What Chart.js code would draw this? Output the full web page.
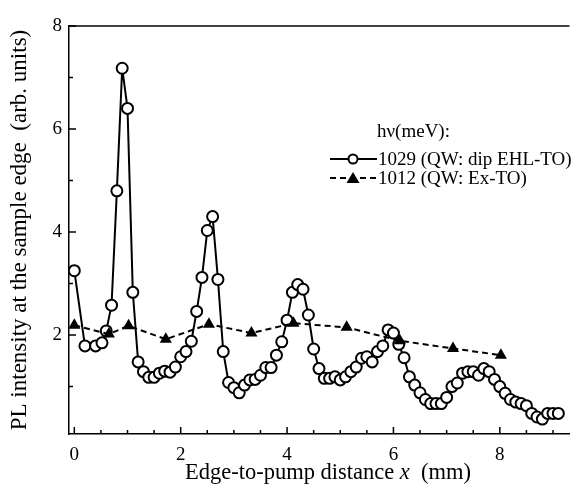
<!DOCTYPE html>
<html>
<head>
<meta charset="utf-8">
<script src="https://cdn.jsdelivr.net/npm/chart.js@4.4.1/dist/chart.umd.min.js"></script>
<style>
html,body{margin:0;padding:0;background:#fff;}
canvas{display:block;}
</style>
</head>
<body>
<canvas id="c" width="577" height="489"></canvas>
<script>
// Series 1: 1029 meV (QW: dip EHL-TO) — open circles, solid line
const xEHL = [0.0, 0.2, 0.4, 0.52, 0.6, 0.7, 0.8, 0.9, 1.0, 1.1, 1.2, 1.3, 1.4, 1.5, 1.6, 1.7, 1.8, 1.9, 2.0, 2.1, 2.2, 2.3, 2.4, 2.5, 2.6, 2.7, 2.8, 2.9, 3.0, 3.1, 3.2, 3.3, 3.4, 3.5, 3.6, 3.7, 3.8, 3.9, 4.0, 4.1, 4.2, 4.3, 4.4, 4.5, 4.6, 4.7, 4.8, 4.9, 5.0, 5.1, 5.2, 5.3, 5.4, 5.5, 5.6, 5.7, 5.8, 5.9, 6.0, 6.1, 6.2, 6.3, 6.4, 6.5, 6.6, 6.7, 6.8, 6.9, 7.0, 7.1, 7.2, 7.3, 7.4, 7.5, 7.6, 7.7, 7.8, 7.9, 8.0, 8.1, 8.2, 8.3, 8.4, 8.5, 8.6, 8.7, 8.8, 8.9, 9.0, 9.1];
const yEHL = [3.25, 1.79, 1.79, 1.85, 2.08, 2.58, 4.80, 7.18, 6.40, 2.83, 1.48, 1.29, 1.18, 1.18, 1.26, 1.30, 1.28, 1.38, 1.58, 1.68, 1.88, 2.46, 3.12, 4.03, 4.30, 3.08, 1.68, 1.08, 0.98, 0.88, 1.03, 1.13, 1.14, 1.22, 1.37, 1.37, 1.61, 1.87, 2.29, 2.83, 2.98, 2.89, 2.39, 1.73, 1.35, 1.16, 1.16, 1.19, 1.13, 1.19, 1.29, 1.38, 1.55, 1.58, 1.48, 1.68, 1.79, 2.10, 2.04, 1.82, 1.56, 1.19, 1.03, 0.88, 0.75, 0.67, 0.67, 0.67, 0.79, 1.00, 1.07, 1.26, 1.29, 1.29, 1.22, 1.35, 1.29, 1.14, 1.00, 0.87, 0.75, 0.70, 0.67, 0.63, 0.48, 0.41, 0.37, 0.48, 0.48, 0.48];

// Series 2: 1012 meV (QW: Ex-TO) — filled triangles, dashed line
const xEx = [0.0, 0.65, 1.02, 1.72, 2.53, 3.33, 4.12, 5.12, 6.12, 7.12, 8.02];
const yEx = [2.19, 2.02, 2.18, 1.92, 2.21, 2.04, 2.23, 2.15, 1.89, 1.74, 1.61];

// Axis ticks
const xMajorTicks = [0, 2, 4, 6, 8];
const xMinorTicks = [0.5, 1, 1.5, 2.5, 3, 3.5, 4.5, 5, 5.5, 6.5, 7, 7.5, 8.5, 9];
const yMajorTicks = [2, 4, 6, 8];
const yMinorTicks = [1, 3, 5, 7];

const legendTitle = 'h\u03bd(meV):';
const seriesLabels = ['1029 (QW: dip EHL-TO)', '1012 (QW: Ex-TO)'];
const xTitleParts = ['Edge-to-pump distance ', 'x', '  (mm)'];
const yTitle = 'PL intensity at the sample edge  (arb. units)';

const SERIF = '"Liberation Serif", "Times New Roman", serif';

const d1 = xEHL.map((x, i) => ({x: x, y: yEHL[i]}));
const d2 = xEx.map((x, i) => ({x: x, y: yEx[i]}));

const framePlugin = {
  id: 'frame',
  afterDraw(chart) {
    const ctx = chart.ctx;
    const a = chart.chartArea;
    const xs = chart.scales.x, ys = chart.scales.y;
    ctx.save();
    ctx.strokeStyle = '#000';
    ctx.lineWidth = 1.5;
    // top border
    ctx.beginPath();
    ctx.moveTo(a.left, a.top);
    ctx.lineTo(a.right, a.top);
    ctx.stroke();
    // inward ticks
    ctx.beginPath();
    xMajorTicks.forEach(v => { const p = xs.getPixelForValue(v); ctx.moveTo(p, a.bottom); ctx.lineTo(p, a.bottom - 7); });
    xMinorTicks.forEach(v => { const p = xs.getPixelForValue(v); ctx.moveTo(p, a.bottom); ctx.lineTo(p, a.bottom - 4); });
    yMajorTicks.forEach(v => { const p = ys.getPixelForValue(v); ctx.moveTo(a.left, p); ctx.lineTo(a.left + 7, p); });
    yMinorTicks.forEach(v => { const p = ys.getPixelForValue(v); ctx.moveTo(a.left, p); ctx.lineTo(a.left + 4, p); });
    ctx.stroke();

    // x-axis title with italic x
    ctx.fillStyle = '#000';
    ctx.textBaseline = 'middle';
    ctx.textAlign = 'left';
    const fN = '22.5px ' + SERIF, fI = 'italic 22.5px ' + SERIF;
    ctx.font = fN; const w0 = ctx.measureText(xTitleParts[0]).width, w2 = ctx.measureText(xTitleParts[2]).width;
    ctx.font = fI; const w1 = ctx.measureText(xTitleParts[1]).width;
    let tx = 328 - (w0 + w1 + w2) / 2;
    const ty = 473;
    ctx.font = fN; ctx.fillText(xTitleParts[0], tx, ty); tx += w0;
    ctx.font = fI; ctx.fillText(xTitleParts[1], tx, ty); tx += w1;
    ctx.font = fN; ctx.fillText(xTitleParts[2], tx, ty);

    // legend
    const lx0 = 330, lx1 = 377, mx = 353;
    const rows = [159, 178];
    ctx.font = '19px ' + SERIF;
    ctx.fillText(legendTitle, 377, 132);
    // row 1
    ctx.lineWidth = 2;
    ctx.setLineDash([]);
    ctx.beginPath(); ctx.moveTo(lx0, rows[0]); ctx.lineTo(lx1, rows[0]); ctx.stroke();
    ctx.beginPath(); ctx.arc(mx, rows[0], 4.5, 0, Math.PI * 2);
    ctx.fillStyle = '#fff'; ctx.fill(); ctx.stroke();
    ctx.fillStyle = '#000';
    ctx.fillText(seriesLabels[0], 378, rows[0] + 1);
    // row 2
    ctx.setLineDash([6, 4]);
    ctx.beginPath(); ctx.moveTo(lx0, rows[1]); ctx.lineTo(lx1, rows[1]); ctx.stroke();
    ctx.setLineDash([]);
    ctx.beginPath();
    ctx.moveTo(mx, rows[1] - 6); ctx.lineTo(mx + 6.5, rows[1] + 5); ctx.lineTo(mx - 6.5, rows[1] + 5); ctx.closePath();
    ctx.fill();
    ctx.fillText(seriesLabels[1], 378, rows[1] + 1);
    ctx.restore();
  }
};

new Chart(document.getElementById('c'), {
  type: 'scatter',
  data: {
    datasets: [
      {
        label: seriesLabels[0],
        data: d1,
        showLine: true,
        borderColor: '#000',
        borderWidth: 2,
        pointStyle: 'circle',
        pointRadius: 5.5,
        pointBorderWidth: 2,
        pointBackgroundColor: '#fff',
        pointBorderColor: '#000',
        order: 1
      },
      {
        label: seriesLabels[1],
        data: d2,
        showLine: true,
        borderColor: '#000',
        borderWidth: 2,
        borderDash: [6, 4],
        pointStyle: 'triangle',
        pointRadius: 7,
        pointBorderWidth: 0,
        pointBackgroundColor: '#000',
        pointBorderColor: '#000',
        order: 0
      }
    ]
  },
  options: {
    responsive: false,
    animation: false,
    devicePixelRatio: 1,
    layout: { padding: { top: 26, right: 0, left: 0, bottom: 0 } },
    plugins: { legend: { display: false }, tooltip: { enabled: false } },
    scales: {
      x: {
        type: 'linear',
        min: -0.1,
        max: 9.31,
        afterFit: (s) => { s.height = 55; },
        grid: { display: false, drawTicks: false },
        border: { display: true, color: '#000', width: 1.5 },
        ticks: {
          stepSize: 2,
          includeBounds: false,
          autoSkip: false,
          maxRotation: 0,
          padding: 10,
          color: '#000',
          font: { family: SERIF, size: 19 }
        },
        title: { display: false }
      },
      y: {
        type: 'linear',
        min: 0.08,
        max: 8,
        afterFit: (s) => { s.width = 69; },
        grid: { display: false, drawTicks: false },
        border: { display: true, color: '#000', width: 1.5 },
        ticks: {
          stepSize: 2,
          includeBounds: false,
          padding: 7,
          color: '#000',
          font: { family: SERIF, size: 19 }
        },
        title: {
          display: true,
          text: yTitle,
          color: '#000',
          font: { family: SERIF, size: 23 },
          padding: { top: 6, bottom: 0 }
        }
      }
    }
  },
  plugins: [framePlugin]
});
</script>
</body>
</html>
